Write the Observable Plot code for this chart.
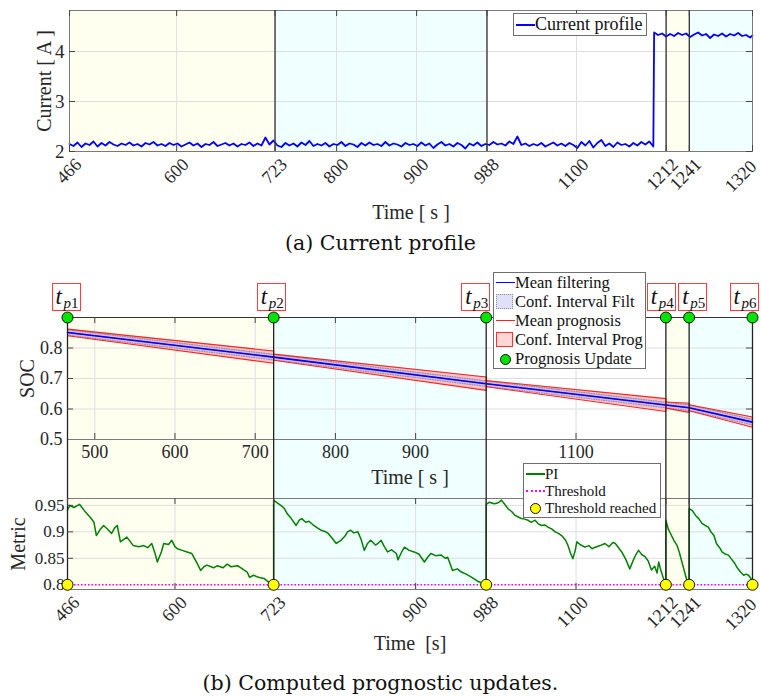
<!DOCTYPE html>
<html><head><meta charset="utf-8">
<script src="https://cdn.jsdelivr.net/npm/d3@7"></script>
<script src="https://cdn.jsdelivr.net/npm/@observablehq/plot@0.6"></script>
<style>
body{margin:0;background:#fff;}
#root{position:relative;width:761px;height:698px;overflow:hidden;font-family:"Liberation Serif","Times New Roman",serif;color:#262626;}
#root svg{position:absolute;left:0;}
.cap{position:absolute;left:0;width:761px;text-align:center;font-family:"DejaVu Serif",serif;font-size:20.5px;color:#111;line-height:1;}
.legend{position:absolute;background:#fff;border:1px solid #6e6e6e;box-sizing:border-box;color:#111;}
.row{position:absolute;left:0;display:flex;align-items:center;white-space:nowrap;}
.sym{position:absolute;}
.tp{position:absolute;border:1px solid #ff3b3b;background:#fff;box-sizing:border-box;width:29px;height:28px;font-family:"Liberation Serif",serif;color:#111;}
.tp i{position:absolute;left:3px;top:0px;font-size:23px;}
.tp span{position:absolute;left:11px;top:11px;font-size:15px;}
.tp span em{font-style:italic;}
</style></head>
<body><div id="root"></div>
<script>
// ---------------- data ----------------
const updateTimes = [466, 723, 988, 1212, 1241, 1320];
const updateLabels = ["p1", "p2", "p3", "p4", "p5", "p6"];
const phaseStart = [466, 723, 988, 1212, 1241];
const phaseEnd   = [723, 988, 1212, 1241, 1320];
const phaseName  = ["A", "B", "none", "A", "B"];

// Current profile (A), sampled every 5 s from 466 s, then high level after the jump
const currentT0 = 466, currentDt = 5;
const currentLow = [
 2.15,2.11,2.18,2.09,2.16,2.13,2.20,2.10,2.17,2.12,2.19,2.14,2.11,2.16,2.13,2.18,2.12,2.15,2.10,2.17,2.14,
 2.19,2.12,2.15,2.11,2.17,2.13,2.16,2.10,2.14,2.18,2.12,2.16,2.09,2.15,2.13,2.19,2.11,2.14,2.17,2.12,2.16,
 2.10,2.15,2.13,2.18,2.11,2.16,2.12,2.28,2.14,2.22,2.12,2.09,2.17,2.12,2.16,2.10,2.18,2.13,2.21,2.11,2.15,
 2.12,2.17,2.10,2.15,2.13,2.19,2.11,2.16,2.14,2.09,2.17,2.12,2.18,2.13,2.15,2.11,2.19,2.12,2.16,2.14,2.10,
 2.17,2.13,2.15,2.11,2.18,2.12,2.16,2.07,2.14,2.19,2.12,2.15,2.10,2.17,2.13,2.06,2.16,2.12,2.18,2.11,2.15,
 2.13,2.19,2.14,2.16,2.12,2.20,2.15,2.30,2.13,2.16,2.11,2.15,2.12,2.17,2.10,2.14,2.18,2.12,2.16,2.11,2.17,
 2.13,2.07,2.19,2.12,2.21,2.08,2.17,2.23,2.11,2.16,2.09,2.18,2.13,2.15,2.10,2.17,2.12,2.19,2.14,2.20,2.10];
const currentJumpT = 1197;
const currentHigh = [4.38,4.33,4.36,4.30,4.35,4.31,4.37,4.33,4.36,4.29,4.34,4.38,4.32,4.35,4.27,4.34,4.31,4.36,4.30,4.35,4.32,4.37,4.31,4.33,4.28,4.32];

// SOC
const socMean = [0.851, 0.770, 0.683, 0.613, 0.604, 0.557];
const filtHalfWidth = 0.009;
const progHalfStart = [0.011, 0.010, 0.010, 0.010, 0.010];
const progHalfEnd   = [0.020, 0.022, 0.021, 0.015, 0.017];

// Performance index (PI)
const piTime = [
 466,469,474,481,487,494,499,502,507,511,516,521,525,528,532,540,548,555,561,566,571,575,578,583,586,592,596,600,603,609,615,621,626,632,636,640,648,653,660,665,670,678,684,690,693,698,704,711,716,719,723,
 723,727,732,736,740,745,751,755,758,763,767,773,777,782,788,791,796,801,807,812,815,819,823,828,832,836,840,844,850,853,857,861,865,870,876,878,882,886,892,898,904,911,915,919,925,932,937,940,946,952,957,963,969,974,978,983,988,
 988,992,998,1003,1007,1011,1015,1020,1024,1028,1032,1036,1040,1044,1049,1053,1057,1061,1065,1070,1074,1078,1082,1087,1090,1093,1096,1099,1101,1105,1111,1116,1120,1124,1130,1136,1141,1146,1149,1153,1157,1162,1167,1171,1175,1178,1182,1186,1190,1194,1198,1201,1203,1206,1209,1212,
 1212,1215,1219,1222,1226,1229,1232,1235,1238,1241,
 1241,1245,1249,1253,1257,1261,1265,1268,1272,1275,1279,1282,1286,1290,1294,1298,1301,1305,1309,1312,1315,1318,1320];
const piValue = [
 0.941,0.950,0.946,0.952,0.940,0.928,0.918,0.893,0.905,0.912,0.905,0.897,0.908,0.912,0.881,0.890,0.874,0.872,0.874,0.870,0.878,0.860,0.843,0.862,0.878,0.876,0.884,0.872,0.868,0.865,0.862,0.859,0.845,0.827,0.834,0.837,0.832,0.836,0.832,0.839,0.834,0.836,0.830,0.824,0.814,0.818,0.814,0.812,0.806,0.803,0.800,
 0.960,0.955,0.950,0.945,0.934,0.925,0.912,0.922,0.925,0.918,0.920,0.912,0.908,0.903,0.900,0.897,0.888,0.878,0.884,0.892,0.900,0.903,0.898,0.900,0.886,0.865,0.878,0.884,0.875,0.878,0.884,0.872,0.862,0.866,0.859,0.847,0.860,0.871,0.865,0.862,0.858,0.843,0.852,0.859,0.855,0.856,0.850,0.852,0.827,0.830,0.824,0.820,0.815,0.810,0.806,0.803,0.800,
 0.952,0.956,0.953,0.955,0.960,0.952,0.944,0.938,0.931,0.928,0.925,0.924,0.922,0.918,0.922,0.915,0.912,0.913,0.909,0.905,0.900,0.897,0.893,0.884,0.874,0.860,0.849,0.865,0.881,0.876,0.871,0.874,0.868,0.871,0.874,0.878,0.872,0.880,0.878,0.870,0.862,0.848,0.830,0.845,0.858,0.865,0.857,0.853,0.845,0.828,0.835,0.822,0.843,0.826,0.812,0.800,
 0.922,0.905,0.893,0.884,0.874,0.860,0.843,0.826,0.809,0.800,
 0.944,0.940,0.931,0.925,0.916,0.912,0.909,0.900,0.893,0.878,0.870,0.862,0.858,0.856,0.848,0.840,0.832,0.824,0.818,0.820,0.818,0.812,0.800];
const threshold = 0.8;

// tick lists
const ticksA = [466, 600, 723, 800, 900, 988, 1100, 1212, 1241, 1320];
const ticksSOCx = [500, 600, 700, 800, 900, 1100];
const ticksSOCy = [0.5, 0.6, 0.7, 0.8];
const ticksMx = [466, 600, 723, 900, 988, 1100, 1212, 1241, 1320];
const ticksMy = [0.8, 0.85, 0.9, 0.95];
const ticksAy = [2, 3, 4];

// ---------------- derived tables ----------------
const phases = phaseStart.map((s, i) => ({x1: s, x2: phaseEnd[i], phase: phaseName[i]}));
const currentData = [
  ...currentLow.map((v, i) => ({t: currentT0 + i * currentDt, v})),
  ...currentHigh.map((v, i) => ({t: Math.min(currentJumpT + i * currentDt, 1320), v}))
];
const socFilt = updateTimes.map((t, i) => ({t, m: socMean[i], lo: socMean[i] - filtHalfWidth, hi: socMean[i] + filtHalfWidth}));
const socProg = [];
for (let i = 0; i < updateTimes.length - 1; i++) {
  socProg.push({seg: i, t: updateTimes[i], m: socMean[i], lo: socMean[i] - progHalfStart[i], hi: socMean[i] + progHalfStart[i]});
  socProg.push({seg: i, t: updateTimes[i + 1], m: socMean[i + 1], lo: socMean[i + 1] - progHalfEnd[i], hi: socMean[i + 1] + progHalfEnd[i]});
}
const piData = piTime.map((t, i) => ({t, v: piValue[i]}));
const bounds = updateTimes.slice(1, -1);

// ---------------- styles ----------------
const FONT = '"Liberation Serif","Times New Roman",serif';
const colorScale = {domain: ["A", "B", "none"], range: ["#fffff0", "#f0ffff", "#ffffff"]};
const gridC = "#dedede", tickC = "#444", frameC = "#7a7a7a";
function inTicksX(ticks, fh, len = 6) {
  return [Plot.ruleX(ticks, {insetTop: fh - len, stroke: tickC}), Plot.ruleX(ticks, {insetBottom: fh - len, stroke: tickC})];
}
function inTicksY(ticks, fw, len = 6) {
  return [Plot.ruleY(ticks, {insetRight: fw - len, stroke: tickC}), Plot.ruleY(ticks, {insetLeft: fw - len, stroke: tickC})];
}
// rotated tick labels; the last one is nudged so it stays inside the page
function rotatedAxis(ticks) {
  const last = ticks[ticks.length - 1];
  const common = {tickSize: 0, tickPadding: 10, tickRotate: -45, tickFormat: d => String(d), label: null, fontSize: 18};
  return [
    Plot.axisX({...common, ticks: ticks.slice(0, -1), dx: 9}),
    Plot.axisX({...common, ticks: [last], dx: 1, tickPadding: 12})
  ];
}
const root = document.getElementById("root");
const W = 761;
const baseStyle = {fontFamily: FONT, fontSize: "18px", color: "#262626", background: "transparent", overflow: "visible"};

// ---------------- panel (a) ----------------
{
  const mt = 10, mb = 74, H = 225, ml = 69, mr = 9;
  const fh = H - mt - mb, fw = W - ml - mr;
  const p = Plot.plot({
    width: W, height: H, marginLeft: ml, marginRight: mr, marginTop: mt, marginBottom: mb,
    x: {domain: [466, 1320]}, y: {domain: [2, 4.82]}, color: colorScale,
    style: baseStyle,
    marks: [
      Plot.rect(phases, {x1: "x1", x2: "x2", fill: "phase"}),
      Plot.ruleX(ticksA, {stroke: gridC}),
      Plot.ruleY(ticksAy, {stroke: gridC}),
      Plot.line(currentData, {x: "t", y: "v", stroke: "#0000ff", strokeWidth: 1.8}),
      Plot.frame({stroke: frameC}),
      Plot.ruleX(bounds, {stroke: "#333", strokeWidth: 1.3}),
      ...inTicksX(ticksA, fh), ...inTicksY(ticksAy, fw),
      ...rotatedAxis(ticksA),
      Plot.axisY({ticks: ticksAy, tickSize: 0, tickPadding: 5, tickFormat: d => String(d), label: null, fontSize: 19}),
      Plot.text(["Time [ s ]"], {frameAnchor: "bottom", dy: 61, lineAnchor: "middle", textAnchor: "middle", fontSize: 20}),
      Plot.text(["Current [ A ]"], {frameAnchor: "left", rotate: -90, dx: -25, lineAnchor: "middle", textAnchor: "middle", fontSize: 20})
    ]
  });
  p.style.top = "0px";
  root.appendChild(p);
}
const capA = document.createElement("div");
capA.className = "cap"; capA.style.top = "233px"; capA.textContent = "(a) Current profile";
root.appendChild(capA);

// ---------------- panel (b) SOC ----------------
let socX;
{
  const top = 300, mt = 17, mb = 59, H = 198, ml = 67, mr = 9;
  const fh = H - mt - mb, fw = W - ml - mr;
  const p = Plot.plot({
    width: W, height: H, marginLeft: ml, marginRight: mr, marginTop: mt, marginBottom: mb,
    x: {domain: [466, 1320]}, y: {domain: [0.5, 0.9]}, color: colorScale,
    style: baseStyle,
    marks: [
      Plot.rect(phases, {x1: "x1", x2: "x2", fill: "phase", insetBottom: -mb}),
      Plot.ruleX(ticksSOCx, {stroke: gridC}),
      Plot.ruleY(ticksSOCy.slice(1), {stroke: gridC}),
      Plot.areaY(socProg, {x: "t", y1: "lo", y2: "hi", z: "seg", fill: "#f6c4c8"}),
      Plot.areaY(socFilt, {x: "t", y1: "lo", y2: "hi", fill: "#b4b4ea", fillOpacity: 0.55}),
      Plot.line(socFilt, {x: "t", y: "lo", stroke: "#8a8aa8", strokeDasharray: "1,1.5", strokeWidth: 1}),
      Plot.line(socFilt, {x: "t", y: "hi", stroke: "#8a8aa8", strokeDasharray: "1,1.5", strokeWidth: 1}),
      Plot.line(socProg, {x: "t", y: "lo", z: "seg", stroke: "#ff2020", strokeWidth: 1.1}),
      Plot.line(socProg, {x: "t", y: "hi", z: "seg", stroke: "#ff2020", strokeWidth: 1.1}),
      Plot.ruleX(socProg.filter((d, i) => i % 2 === 1 && d.t < 1320), {x: "t", y1: "lo", y2: "hi", stroke: "#ff2020", strokeWidth: 1.1}),
      Plot.line(socProg, {x: "t", y: "m", z: "seg", stroke: "#ff2020", strokeWidth: 1}),
      Plot.line(socFilt, {x: "t", y: "m", stroke: "#0000ff", strokeWidth: 1.6}),
      Plot.ruleY([0.5], {stroke: frameC}),
      Plot.ruleY([0.9], {stroke: "#333"}),
      Plot.ruleX(updateTimes, {stroke: "#222", strokeWidth: 1.3, insetBottom: -mb}),
      ...inTicksX(ticksSOCx, fh), ...inTicksY(ticksSOCy.slice(1), fw),
      Plot.axisX({ticks: ticksSOCx, tickSize: 0, tickPadding: 6, tickFormat: d => String(d), label: null, fontSize: 18}),
      Plot.axisY({ticks: ticksSOCy, tickSize: 0, tickPadding: 5, tickFormat: d => String(d), label: null, fontSize: 18}),
      Plot.dot(updateTimes, {x: d => d, frameAnchor: "top", r: 5.5, fill: "#00e400", stroke: "#111", strokeWidth: 1}),
      Plot.text(["Time [ s ]"], {frameAnchor: "bottom", dy: 38, lineAnchor: "middle", textAnchor: "middle", fontSize: 20}),
      Plot.text(["SOC"], {frameAnchor: "left", rotate: -90, dx: -40, lineAnchor: "middle", textAnchor: "middle", fontSize: 20})
    ]
  });
  p.style.top = top + "px";
  root.appendChild(p);
  socX = p.scale("x");
}

// ---------------- panel (b) Metric ----------------
{
  const top = 490, mt = 8, mb = 71, H = 170, ml = 67, mr = 9;
  const fh = H - mt - mb, fw = W - ml - mr;
  const p = Plot.plot({
    width: W, height: H, marginLeft: ml, marginRight: mr, marginTop: mt, marginBottom: mb,
    x: {domain: [466, 1320]}, y: {domain: [0.791, 0.963]}, color: colorScale,
    style: baseStyle,
    marks: [
      Plot.rect(phases, {x1: "x1", x2: "x2", fill: "phase"}),
      Plot.ruleX(ticksMx, {stroke: gridC}),
      Plot.ruleY(ticksMy, {stroke: gridC}),
      Plot.line(piData, {x: "t", y: "v", stroke: "#008000", strokeWidth: 1.5}),
      Plot.ruleY([threshold], {stroke: "#ff00ff", strokeWidth: 1.6, strokeDasharray: "1.5,2"}),
      Plot.frame({stroke: frameC}),
      Plot.ruleX(updateTimes, {stroke: "#222", strokeWidth: 1.3}),
      ...inTicksX(ticksMx, fh), ...inTicksY(ticksMy, fw),
      ...rotatedAxis(ticksMx),
      Plot.axisY({ticks: ticksMy, tickSize: 0, tickPadding: 3, tickFormat: d => String(d), label: null, fontSize: 17}),
      Plot.dot(updateTimes, {x: d => d, y: () => threshold, r: 5.5, fill: "#ffff00", stroke: "#111", strokeWidth: 1}),
      Plot.text(["Time  [s]"], {frameAnchor: "bottom", dy: 54, lineAnchor: "middle", textAnchor: "middle", fontSize: 20}),
      Plot.text(["Metric"], {frameAnchor: "left", rotate: -90, dx: -49, lineAnchor: "middle", textAnchor: "middle", fontSize: 20})
    ]
  });
  p.style.top = top + "px";
  root.appendChild(p);
}
const capB = document.createElement("div");
capB.className = "cap"; capB.style.top = "673px"; capB.textContent = "(b) Computed prognostic updates.";
root.appendChild(capB);

// ---------------- update labels t_p ----------------
const labelShift = [-1, -2, -10, -4, 4, -8];
updateTimes.forEach((t, i) => {
  const d = document.createElement("div");
  d.className = "tp";
  d.style.left = (socX.apply(t) - 14.5 + labelShift[i]) + "px";
  d.style.top = "283px";
  d.innerHTML = `<i>t</i><span><em>p</em>${updateLabels[i].slice(1)}</span>`;
  root.appendChild(d);
});

// ---------------- legends ----------------
function legend(left, top, w, h, rows, fs, rh, r0) {
  const L = document.createElement("div");
  L.className = "legend";
  Object.assign(L.style, {left: left + "px", top: top + "px", width: w + "px", height: h + "px", fontSize: fs + "px"});
  rows.forEach((r, i) => {
    const cy = r0 + i * rh;
    const s = document.createElement("div");
    s.className = "sym";
    if (r.type === "line") Object.assign(s.style, {left: "2px", top: (cy - 1) + "px", width: "19px", height: "0", borderTop: `${r.w || 1.5}px ${r.dash ? "dotted" : "solid"} ${r.color}`});
    if (r.type === "patch") Object.assign(s.style, {left: "2px", top: (cy - 8) + "px", width: "17px", height: "15px", background: r.fill, border: `1px ${r.dash ? "dotted" : "solid"} ${r.color}`, boxSizing: "border-box"});
    if (r.type === "dot") Object.assign(s.style, {left: "6px", top: (cy - 5.5) + "px", width: "11px", height: "11px", borderRadius: "50%", background: r.fill, border: "1px solid #111", boxSizing: "border-box"});
    L.appendChild(s);
    const tx = document.createElement("div");
    tx.className = "row";
    Object.assign(tx.style, {left: "21px", top: (cy - rh / 2) + "px", height: rh + "px"});
    tx.textContent = r.label;
    L.appendChild(tx);
  });
  root.appendChild(L);
}
legend(513, 13, 134, 23, [{type: "line", color: "#0000ff", label: "Current profile", w: 2}], 18, 22, 10.5);
legend(493, 272, 153, 97, [
  {type: "line", color: "#0000ff", label: "Mean filtering"},
  {type: "patch", fill: "#e0e0f8", color: "#8888aa", dash: true, label: "Conf. Interval Filt"},
  {type: "line", color: "#ff2020", label: "Mean prognosis"},
  {type: "patch", fill: "#ffd6d6", color: "#ff3030", label: "Conf. Interval Prog"},
  {type: "dot", fill: "#00e400", label: "Prognosis Update"}
], 16.5, 19, 10);
legend(523, 463, 138, 55, [
  {type: "line", color: "#008000", label: "PI", w: 2},
  {type: "line", color: "#ff00ff", dash: true, w: 2, label: "Threshold"},
  {type: "dot", fill: "#ffff00", label: "Threshold reached"}
], 15, 17, 10);
</script></body></html>
